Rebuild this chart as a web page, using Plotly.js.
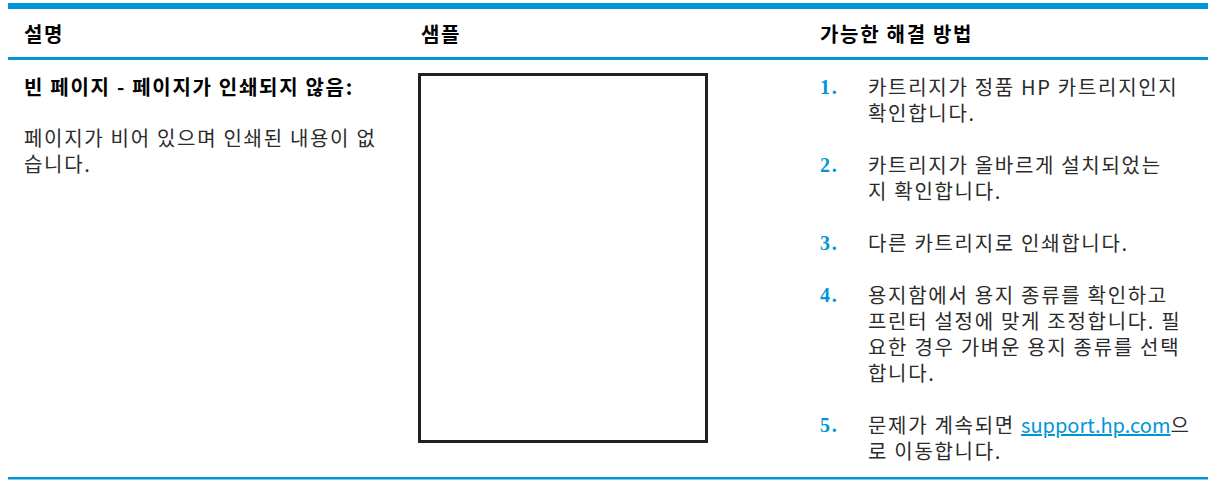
<!DOCTYPE html>
<html>
<head>
<meta charset="utf-8">
<script src="https://cdn.plot.ly/plotly-3.0.1.min.js"></script>
<style>
html,body{margin:0;padding:0;background:#fff;}
#chart{width:1208px;height:480px;}
#chart .annotation-text{letter-spacing:1.7px;}
</style>
</head>
<body>
<div id="chart"></div>
<script>
// ---- content ----
const headers = ["설명", "샘플", "가능한 해결 방법"];
const descTitle = "빈 페이지 - 페이지가 인쇄되지 않음:";
const descBody = ["페이지가 비어 있으며 인쇄된 내용이 없", "습니다."];
const stepNumbers = ["1.", "2.", "3.", "4.", "5."];
const stepLines = [
  ["카트리지가 정품 HP 카트리지인지", "확인합니다."],
  ["카트리지가 올바르게 설치되었는", "지 확인합니다."],
  ["다른 카트리지로 인쇄합니다."],
  ["용지함에서 용지 종류를 확인하고", "프린터 설정에 맞게 조정합니다. 필", "요한 경우 가벼운 용지 종류를 선택", "합니다."],
  ["문제가 계속되면 <span style=\"text-decoration:underline;fill:#0096d6;letter-spacing:0px\">support.hp.com</span>으", "로 이동합니다."]
];

// ---- styles ----
const BLUE = "#0096d6";
const DARK = "#231f20";
const TEXT = "#2b2b2b";
const KFONT = "Noto Sans CJK KR";
const BODY = 20;          // Plotly line spacing = 1.3em -> 26px
const LH = BODY * 1.3;

const shapes = [
  {type:"rect", x0:8, x1:1208, y0:3, y1:9, fillcolor:BLUE, line:{width:0}},
  {type:"rect", x0:8, x1:1208, y0:57, y1:60, fillcolor:BLUE, line:{width:0}},
  {type:"rect", x0:8, x1:1208, y0:477, y1:479.5, fillcolor:BLUE, line:{width:0}},
  {type:"rect", x0:419.5, x1:706.5, y0:74.5, y1:441.5, fillcolor:"rgba(0,0,0,0)", line:{color:DARK, width:3}}
];

const annotations = [];
function txt(x, yFirst, lines, opts) {
  const n = lines.length;
  annotations.push(Object.assign({
    x:x, y:yFirst + (n - 1) * LH / 2, xref:"x", yref:"y", text:lines.join("<br>"), showarrow:false,
    xanchor:"left", yanchor:"middle", align:"left",
    font:{family:KFONT, size:BODY, color:TEXT}
  }, opts || {}));
}

// header
const headerX = [22, 419, 818];
headers.forEach((h, i) => txt(headerX[i], 33, [h], {font:{family:KFONT, size:20, color:"#000", weight:"bold"}}));

// description column
txt(22, 86, [descTitle], {font:{family:KFONT, size:20, color:"#000", weight:"bold"}});
txt(22, 137, descBody);

// steps column
let y = 86.5;
stepLines.forEach((lines, si) => {
  txt(818, y, [stepNumbers[si]], {font:{family:"Liberation Serif", size:20, color:BLUE, weight:"bold"}});
  txt(866, y, lines);
  y += (lines.length + 1) * LH;
});

const layout = {
  width:1208, height:480,
  margin:{l:0, r:0, t:0, b:0},
  paper_bgcolor:"#fff", plot_bgcolor:"#fff",
  xaxis:{range:[0,1208], visible:false, fixedrange:true},
  yaxis:{range:[480,0], visible:false, fixedrange:true},
  shapes:shapes,
  annotations:annotations,
  showlegend:false
};

Plotly.newPlot("chart", [], layout, {staticPlot:true, displayModeBar:false});
</script>
</body>
</html>
